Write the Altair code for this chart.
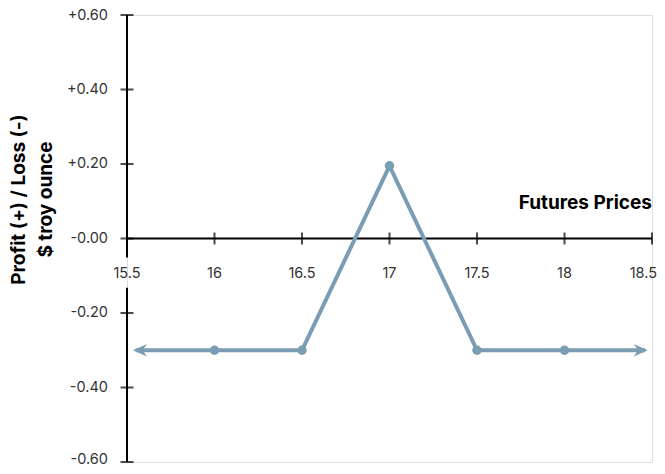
import altair as alt
import pandas as pd

# ---- data ----
prices = [16.0, 16.5, 17.0, 17.5, 18.0]
pnl = [-0.30, -0.30, 0.195, -0.30, -0.30]
arrow_left_x = 15.55
arrow_right_x = 18.46
arrow_y = -0.30

x_ticks = [15.5, 16.0, 16.5, 17.0, 17.5, 18.0, 18.5]
x_tick_labels = ["15.5", "16", "16.5", "17", "17.5", "18", "18.5"]
y_ticks = [0.6, 0.4, 0.2, 0.0, -0.2, -0.4, -0.6]
y_tick_labels = ["+0.60", "+0.40", "+0.20", "-0.00", "-0.20", "-0.40", "-0.60"]

# y-axis line drawn in two segments (gap behind the 15.5 label)
y_axis_from = [-0.60, -0.051]
y_axis_to = [-0.132, 0.60]

x_title = "Futures Prices"
y_title = "Profit (+) / Loss (-)\n$ troy ounce"

LINE_COLOR = "#7b9db3"
FONT = "Inter"

xs = alt.Scale(domain=[15.5, 18.5], nice=False, zero=False)
ys = alt.Scale(domain=[-0.6, 0.6], nice=False, zero=False)
X = lambda f: alt.X(f, type="quantitative", scale=xs, axis=None)
Y = lambda f: alt.Y(f, type="quantitative", scale=ys, axis=None)

line_df = pd.DataFrame({
    "x": [arrow_left_x] + prices + [arrow_right_x],
    "y": [arrow_y] + pnl + [arrow_y],
})
pts_df = pd.DataFrame({"x": prices, "y": pnl})
xt_df = pd.DataFrame({"x": x_ticks, "y": [0.0] * len(x_ticks), "label": x_tick_labels})
yt_df = pd.DataFrame({"x": [15.5] * len(y_ticks), "y": y_ticks, "label": y_tick_labels})
yax_df = pd.DataFrame({"x": [15.5, 15.5], "y": y_axis_from, "y2": y_axis_to})
xax_df = pd.DataFrame({"x": [15.5], "x2": [18.5], "y": [0.0]})

x_axis_line = alt.Chart(xax_df).mark_rule(color="black", strokeWidth=2).encode(
    x=X("x"), x2="x2", y=Y("y"))
y_axis_line = alt.Chart(yax_df).mark_rule(color="black", strokeWidth=2).encode(
    x=X("x"), y=Y("y"), y2="y2")
x_tick_marks = alt.Chart(xt_df).mark_tick(
    color="black", orient="vertical", size=12, thickness=2).encode(x=X("x"), y=Y("y"))
y_tick_marks = alt.Chart(yt_df).mark_tick(
    color="black", orient="horizontal", size=13, thickness=2).encode(x=X("x"), y=Y("y"))

label_style = dict(font=FONT, fontSize=14.5, color="#333333", baseline="middle")
x_labels = alt.Chart(xt_df.iloc[:-1]).mark_text(align="center", dy=35, **label_style).encode(
    x=X("x"), y=Y("y"), text="label:N")
# last label kept inside the page's right edge
x_label_last = alt.Chart(xt_df.iloc[-1:]).mark_text(align="right", dx=5, dy=35, **label_style).encode(
    x=X("x"), y=Y("y"), text="label:N")
y_label_first = alt.Chart(yt_df.iloc[:1]).mark_text(align="right", dx=-19, dy=1, **label_style).encode(
    x=X("x"), y=Y("y"), text="label:N")
y_labels = alt.Chart(yt_df.iloc[1:-1]).mark_text(align="right", dx=-19, **label_style).encode(
    x=X("x"), y=Y("y"), text="label:N")
y_label_last = alt.Chart(yt_df.iloc[-1:]).mark_text(align="right", dx=-19, dy=-2, **label_style).encode(
    x=X("x"), y=Y("y"), text="label:N")

x_title_mark = alt.Chart(pd.DataFrame({"x": [18.5], "y": [0.0], "t": [x_title]})).mark_text(
    font=FONT, fontSize=19, fontWeight="bold", color="black", align="right",
    baseline="alphabetic", dy=-30
).encode(x=X("x"), y=Y("y"), text="t:N")

y_title_mark = alt.Chart(pd.DataFrame({"t": [y_title]})).mark_text(
    font=FONT, fontSize=19, fontWeight="bold", color="black", angle=270,
    align="center", baseline="middle", lineBreak="\n", lineHeight=27
).encode(x=alt.value(-108.5), y=alt.value(184.5), text="t:N")

payoff = alt.Chart(line_df).mark_line(color=LINE_COLOR, strokeWidth=4).encode(x=X("x"), y=Y("y"))
dots = alt.Chart(pts_df).mark_point(
    shape="circle", filled=True, size=90, color=LINE_COLOR, opacity=1).encode(x=X("x"), y=Y("y"))

arrows_df = pd.DataFrame({"x": [arrow_left_x, arrow_right_x], "y": [arrow_y, arrow_y],
                          "side": ["left", "right"]})
left_arrow = alt.Chart(arrows_df[arrows_df.side == "left"]).mark_point(
    shape="M-0.4,0 L1.6,-0.9 L1.0,0 L1.6,0.9 Z", filled=True, size=196,
    color=LINE_COLOR, opacity=1).encode(x=X("x"), y=Y("y"))
right_arrow = alt.Chart(arrows_df[arrows_df.side == "right"]).mark_point(
    shape="M0.4,0 L-1.6,-0.9 L-1.0,0 L-1.6,0.9 Z", filled=True, size=196,
    color=LINE_COLOR, opacity=1).encode(x=X("x"), y=Y("y"))

chart = alt.layer(
    x_axis_line, y_axis_line, x_tick_marks, y_tick_marks, x_labels, x_label_last,
    y_label_first, y_labels, y_label_last, x_title_mark, y_title_mark,
    payoff, dots, left_arrow, right_arrow
).properties(
    width=525, height=447,
    autosize=alt.AutoSizeParams(type="none"),
    padding={"left": 119, "top": 7, "right": 5, "bottom": 4},
).configure_view(stroke=None).configure(background="white")

chart.save("out.html", embed_options={"renderer": "svg", "actions": False})
